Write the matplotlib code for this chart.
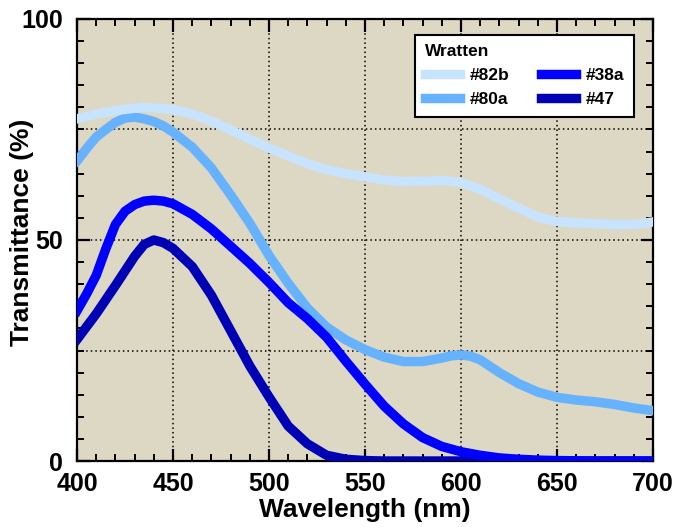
import matplotlib
matplotlib.use("Agg")
import matplotlib.pyplot as plt
from matplotlib.ticker import MultipleLocator

plt.rcParams['font.family'] = ['Liberation Sans', 'DejaVu Sans']
plt.rcParams['font.weight'] = 'bold'

# Data
wl_82b = [400, 410, 420, 430, 435, 440, 450, 460, 470, 480, 490, 500, 510, 520, 530, 540, 550,
          560, 570, 580, 590, 600, 610, 620, 630, 640, 650, 660, 670, 680, 690, 700]
t_82b = [77.4, 78.5, 79.3, 79.8, 80.0, 79.9, 79.5, 78.5, 76.9, 74.9, 72.8, 70.8, 69.0, 67.3, 65.9, 65.0, 64.3,
         63.6, 63.2, 63.3, 63.5, 63.0, 61.5, 59.3, 57.2, 55.2, 54.2, 53.9, 53.7, 53.5, 53.5, 54.1]

wl_80a = [400, 405, 410, 415, 420, 425, 430, 435, 440, 445, 450, 460, 470, 480, 490, 500, 510, 520,
          530, 540, 550, 560, 570, 580, 590, 595, 600, 605, 610, 620, 630, 640, 650, 660, 670, 680,
          690, 700]
t_80a = [67.9, 70.7, 73.3, 75.0, 76.6, 77.6, 77.8, 77.4, 76.8, 75.8, 74.4, 71.0, 66.3, 60.2, 53.8, 46.5,
         40.2, 34.6, 30.3, 27.4, 25.2, 23.5, 22.5, 22.5, 23.3, 23.8, 24.0, 23.7, 22.9, 20.0, 17.5, 15.6,
         14.4, 13.8, 13.4, 12.8, 12.0, 11.4]

wl_38a = [400, 405, 410, 415, 420, 425, 430, 435, 440, 445, 450, 460, 470, 480, 490, 500, 510, 520, 530,
          540, 550, 560, 570, 580, 590, 600, 610, 620, 630, 640, 650, 670, 700]
t_38a = [34.0, 37.8, 42.0, 48.0, 53.5, 56.5, 58.0, 58.8, 59.0, 58.8, 58.2, 55.8, 52.5, 48.6, 44.7, 40.4,
         35.8, 32.2, 28.0, 22.6, 17.4, 12.4, 8.4, 5.3, 3.3, 2.1, 1.3, 0.7, 0.4, 0.2, 0.1, 0.0, 0.0]

wl_47 = [400, 410, 420, 430, 435, 440, 445, 450, 460, 470, 480, 490, 500, 510, 520, 530, 540,
         550, 560, 600, 700]
t_47 = [27.5, 33.3, 39.7, 46.3, 49.0, 50.0, 49.4, 48.1, 44.0, 37.5, 29.5, 21.5, 14.5, 7.9, 3.9, 1.3, 0.4,
        0.1, 0.0, 0.0, 0.0]

labels = ['#82b', '#80a', '#38a', '#47']
colors = {'#82b': '#C8E3FD', '#80a': '#66B2FF', '#38a': '#0000FF', '#47': '#0000B4'}

fig = plt.figure(figsize=(6.75, 5.27), dpi=100)
ax = fig.add_axes([0.1141, 0.1252, 0.8533, 0.8388])
ax.set_facecolor('#DDD8C3')

lw = 6.8
l80, = ax.plot(wl_80a, t_80a, color=colors['#80a'], lw=lw, solid_joinstyle='round', zorder=3)
l82, = ax.plot(wl_82b, t_82b, color=colors['#82b'], lw=lw, solid_joinstyle='round', zorder=4)
l47, = ax.plot(wl_47, t_47, color=colors['#47'], lw=lw, solid_joinstyle='round', zorder=5)
l38, = ax.plot(wl_38a, t_38a, color=colors['#38a'], lw=lw, solid_joinstyle='round', zorder=6)

ax.set_xlim(400, 700)
ax.set_ylim(0, 100)
ax.xaxis.set_major_locator(MultipleLocator(50))
ax.xaxis.set_minor_locator(MultipleLocator(10))
ax.yaxis.set_major_locator(MultipleLocator(50))
ax.yaxis.set_minor_locator(MultipleLocator(5))

for v in [450, 500, 550, 600, 650]:
    ax.axvline(v, color='black', ls=(0, (1, 2)), lw=1.1, zorder=1)
for v in [25, 50, 75]:
    ax.axhline(v, color='black', ls=(0, (1, 2)), lw=1.1, zorder=1)

ax.tick_params(which='major', direction='in', length=9, width=1.6, top=True, right=True,
               labelsize=18)
ax.tick_params(axis='x', which='major', pad=8)
ax.tick_params(axis='y', which='major', pad=10)
ax.tick_params(which='minor', direction='in', length=5, width=1.4, top=True, right=True)
for lab in ax.get_xticklabels() + ax.get_yticklabels():
    lab.set_fontweight('bold')
for s in ax.spines.values():
    s.set_linewidth(1.6)
    s.set_color('black')

ax.set_xlabel('Wavelength (nm)', fontsize=19, fontweight='bold')
ax.set_ylabel('Transmittance (%)', fontsize=19, fontweight='bold')
ax.xaxis.set_label_coords(0.5, -0.111)
ax.xaxis.label.set_va('center')
ax.yaxis.set_label_coords(-0.0955, 0.517)
ax.yaxis.label.set_va('center')

leg = ax.legend([l82, l80, l38, l47], labels, ncol=2, title='Wratten',
                loc='upper right', bbox_to_anchor=(0.967, 0.964), borderaxespad=0,
                prop={'weight': 'bold', 'size': 12.5}, title_fontproperties={'weight': 'bold', 'size': 12.5},
                alignment='left', fancybox=False, framealpha=1, edgecolor='black',
                handlelength=2.05, handletextpad=0.55, columnspacing=1.8, labelspacing=0.5,
                borderpad=0.55)
leg.get_frame().set_linewidth(1.5)
leg.set_zorder(10)
for h in leg.legend_handles:
    h.set_solid_capstyle('projecting')

fig.savefig('out.png', dpi=100)
